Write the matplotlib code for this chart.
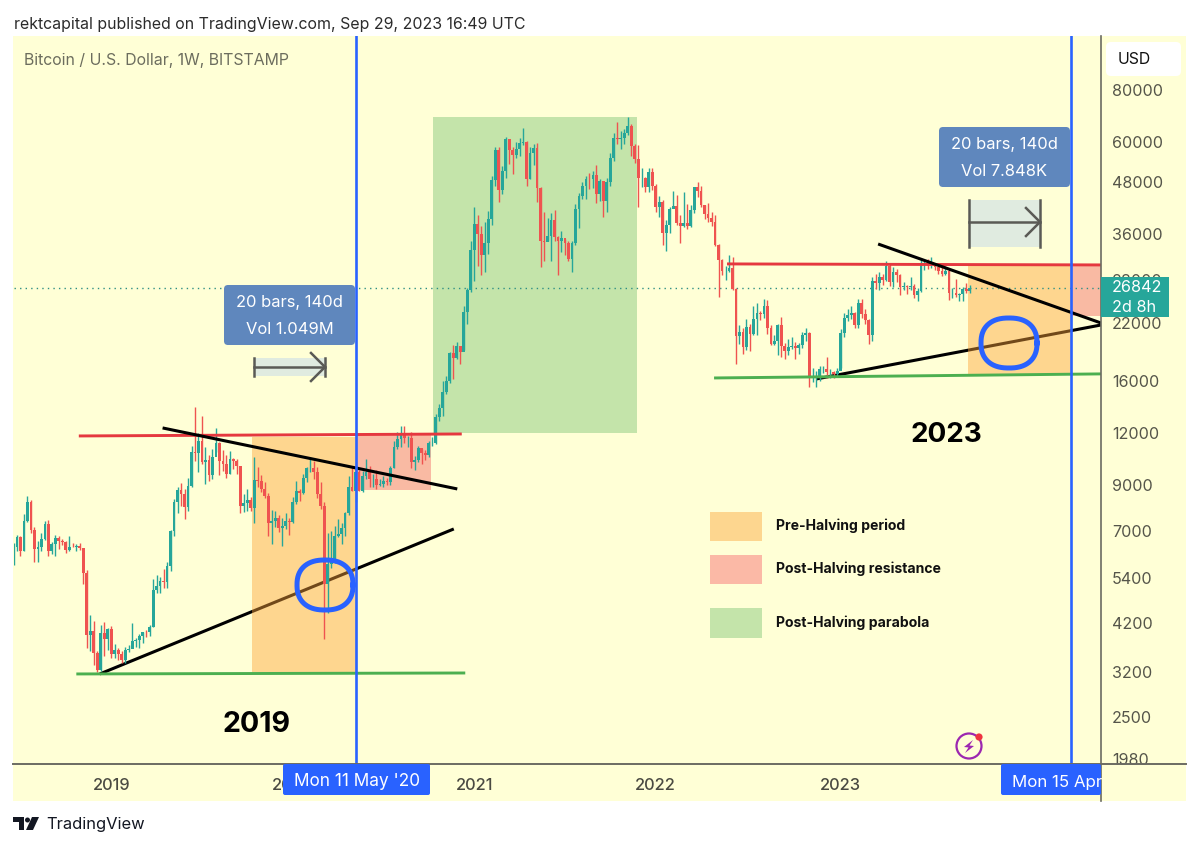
import numpy as np
import pandas as pd
import matplotlib
matplotlib.use('Agg')
import matplotlib.pyplot as plt
from matplotlib.patches import FancyBboxPatch, Rectangle, Circle, Polygon

# weekly BTCUSD candles (first week 2018-06-25)
first_open = 6150
close_2018 = [6380, 6750, 6250, 7400, 8220, 7020, 6310, 6390, 6700, 7260, 6240, 6500, 6710, 6600,
              6580, 6300, 6410, 6400, 6420, 6350, 5550, 3930, 4030, 3550, 3240, 3970, 3840, 4060]
high_2018 = [6530, 6820, 6780, 7690, 8480, 8280, 7150, 6600, 6900, 7400, 7410, 6570, 6830, 6780,
             6680, 6620, 6800, 6530, 6490, 6540, 6360, 5620, 4400, 4250, 3600, 4150, 4230, 4090]
low_2018 = [5780, 6240, 6070, 6250, 7350, 6900, 5880, 5880, 6240, 6650, 6100, 6150, 6100, 6330,
            6450, 6200, 6270, 6380, 6260, 6290, 5200, 3650, 3600, 3330, 3200, 3230, 3500, 3620]

close_2019 = [3540, 3610, 3540, 3420, 3620, 3630, 3810, 3820, 3910, 4000, 3990, 4100, 5050,
              5160, 5310, 5280, 5760, 6990, 8200, 8750, 8550, 7990, 8970, 10800, 10780, 11480,
              10240, 10330, 9530, 10530, 11390, 10300, 10140, 9600, 10400, 10310, 9990, 8040, 8140,
              8300, 7950, 9250, 9200, 8800, 8500, 7300, 7400, 7500, 7100, 7180, 7390, 7350]
high_2019 = [4130, 3740, 3650, 3590, 3680, 3710, 4200, 3870, 3950, 4000, 4050, 4150, 5350,
             5470, 5420, 5650, 5880, 7020, 8350, 8930, 9100, 8800, 9350, 11200, 13880, 12000,
             13200, 11100, 10660, 10990, 12320, 11440, 10950, 10650, 10900, 10480, 10380, 10000, 8550,
             8800, 8430, 10500, 9950, 9500, 9150, 8600, 7850, 7800, 7650, 7520, 7700, 7500]
low_2019 = [3460, 3460, 3430, 3370, 3360, 3570, 3650, 3680, 3660, 3770, 3890, 3900, 4100,
            4950, 4950, 5100, 5100, 5600, 6800, 7700, 8000, 7450, 7800, 8900, 10300, 9700,
            10100, 9070, 9200, 9300, 10800, 9500, 9730, 9350, 9600, 9850, 9600, 7700, 7760,
            7800, 7820, 7300, 8900, 8650, 8400, 6800, 6500, 7150, 6950, 6430, 7050, 6850]

close_2020 = [8180, 8700, 8600, 9350, 9910, 9920, 9660, 8550, 8040, 5200, 5830, 5880, 6780,
              6860, 7120, 7700, 8910, 8720, 9680, 8720, 9450, 9660, 9300, 9300, 9000, 9070,
              9220, 9160, 9900, 11100, 11600, 11900, 11650, 11700, 10250, 10330, 11080, 10740, 10650,
              11350, 11380, 13100, 13760, 15080, 15980, 18690, 18200, 19380, 18800, 23460, 26490, 33000]
high_2020 = [8450, 9190, 8800, 9600, 9950, 10500, 10300, 9960, 9180, 8180, 6900, 7000, 7200,
             7470, 7300, 7780, 9460, 10000, 9950, 9800, 9730, 10380, 10000, 9590, 9780, 9300,
             9480, 9340, 10000, 11460, 12050, 12490, 12480, 11780, 12080, 10600, 11190, 10980, 10950,
             11490, 11750, 13350, 14100, 15980, 16500, 18800, 19500, 19900, 19420, 24300, 26840, 34800]
low_2020 = [7300, 8100, 8250, 8550, 9150, 9700, 9300, 8400, 7900, 3850, 4450, 5700, 5860,
            6770, 6500, 6800, 7650, 8700, 8200, 8700, 8650, 9300, 8900, 8900, 8800, 8950,
            8900, 9000, 9020, 9900, 11000, 11100, 11350, 11100, 9870, 9800, 10230, 10100, 10350,
            10520, 11200, 11300, 12800, 13200, 14900, 15800, 16200, 18100, 17600, 19000, 21900, 26200]

close_2021 = [38200, 36000, 32100, 34300, 39200, 48600, 57400, 46100, 51000, 61000, 57400, 55800, 57800,
              59800, 60000, 49000, 56600, 58200, 46400, 34700, 34600, 35700, 39000, 35500, 34700, 35300,
              34240, 31500, 34300, 41500, 44500, 47000, 48900, 48800, 49900, 45000, 48300, 43200, 48200,
              55000, 61500, 61000, 61300, 63200, 65500, 58700, 54700, 49200, 49300, 46800, 50800, 47100]
high_2021 = [41950, 40000, 37800, 38500, 40950, 49700, 58300, 58300, 52600, 61700, 61100, 58500, 60100,
             61200, 64900, 60200, 58500, 59500, 59600, 46700, 40800, 39500, 40500, 41300, 35700, 36600,
             35100, 34700, 34800, 42500, 45300, 48100, 49800, 50500, 51000, 52900, 48800, 48300, 49200,
             56500, 62900, 67000, 63700, 64300, 69000, 66300, 59400, 59100, 51900, 49500, 51900, 52000]
low_2021 = [27800, 30300, 28800, 29200, 32300, 38000, 47000, 43000, 45000, 49300, 53200, 50400, 54800,
            55500, 59000, 47000, 48800, 52900, 43000, 30000, 31100, 34800, 31000, 34800, 28800, 32700,
            32100, 31000, 29300, 34000, 37300, 43700, 43900, 46300, 46600, 42800, 43300, 39600, 40800,
            47100, 53900, 59500, 57800, 59400, 62300, 55500, 53300, 42000, 46800, 45500, 45600, 45900]

close_2022 = [41800, 43100, 36300, 37900, 41400, 42200, 38400, 37700, 38400, 37800, 41300, 46800, 45800,
              42300, 40400, 39500, 38600, 34000, 31300, 29400, 29400, 29900, 26600, 20500, 21000, 19300,
              21600, 20800, 22600, 23300, 23200, 24300, 21500, 19600, 20000, 21800, 19400, 18900, 19300,
              19400, 19200, 19550, 20600, 20900, 16300, 16300, 16400, 17100, 17100, 16800, 16850, 16600]
high_2022 = [47500, 44400, 43500, 38900, 41900, 45800, 44800, 40000, 45400, 42500, 42400, 46900, 48200,
             47100, 42400, 42900, 40700, 40000, 34200, 31400, 30200, 32200, 31700, 26800, 21800, 21500,
             22500, 21900, 24200, 24700, 23600, 25200, 25100, 21800, 20600, 21900, 22800, 19700, 20200,
             20400, 19900, 19700, 21000, 21400, 21000, 17200, 16900, 17400, 17400, 18300, 17100, 16900]
low_2022 = [40700, 39700, 34000, 32900, 36200, 41700, 38000, 34300, 37500, 37100, 37600, 40500, 44300,
            41900, 39200, 38600, 37700, 33700, 25400, 28700, 28000, 29300, 26500, 17600, 19600, 18600,
            19000, 18900, 20700, 20700, 22400, 22700, 20800, 19550, 19500, 18500, 18300, 18100, 18500,
            19100, 18100, 18600, 19200, 20000, 15500, 15900, 15500, 16000, 16700, 16300, 16300, 16300]

close_2023 = [16950, 20900, 22700, 23000, 23300, 21800, 24600, 23200, 22400, 20600, 27900, 27500, 28500,
              28000, 30300, 27600, 29300, 28700, 26900, 27100, 26900, 27100, 25800, 26300, 30500, 30600,
              30300, 30300, 30000, 29400, 29000, 29400, 26000, 26000, 25800, 25900, 26600, 26300, 26842]
high_2023 = [17200, 21300, 23300, 23800, 24200, 23400, 25200, 25200, 23900, 22600, 28400, 29000, 29200,
             29000, 31000, 30500, 30000, 29800, 28900, 27700, 27200, 28400, 27400, 26800, 31400, 31000,
             31500, 31800, 30400, 29900, 30000, 30200, 29700, 26800, 28100, 26100, 26900, 27500, 27200]
low_2023 = [16500, 17200, 20400, 22300, 22500, 21400, 21400, 22700, 21900, 19600, 20000, 26600, 26500,
            27200, 27800, 27100, 26900, 27700, 25800, 26500, 25900, 26500, 25300, 24900, 26200, 29500,
            29700, 29900, 29500, 28900, 28600, 28800, 25100, 25300, 25500, 24900, 24900, 26000, 26100]

closes = close_2018 + close_2019 + close_2020 + close_2021 + close_2022 + close_2023
highs = high_2018 + high_2019 + high_2020 + high_2021 + high_2022 + high_2023
lows = low_2018 + low_2019 + low_2020 + low_2021 + low_2022 + low_2023
if not (len(closes) == len(highs) == len(lows) == 275):
    raise ValueError(f'bar count {len(closes)} {len(highs)} {len(lows)}')

# axis labels
price_ticks = [80000, 60000, 48000, 36000, 28000, 22000, 16000, 12000, 9000, 7000, 5400, 4200, 3200, 2500, 1980]
year_ticks = ['2019-01-07', '2020-01-06', '2021-01-04', '2022-01-03', '2023-01-09', '2024-01-08']
year_labels = ['2019', '2020', '2021', '2022', '2023', '2024']

# drawings on the chart: (start date, end date, low price, high price)
halving_1 = '2020-05-11'
halving_2 = '2024-04-15'
pre_halving_zones = [('2019-10-16', halving_1, 3205, 11750), ('2023-09-21', halving_2, 16550, 30400)]
resistance_zones = [(halving_1, '2020-10-09', 8770, 11880), (halving_2, '2024-06-14', 22900, 30400)]
parabola_zones = [('2020-10-13', '2021-11-27', 12020, 68900)]

# (start date, start price, end date, end price)
red_lines = [('2018-11-03', 11815, '2020-12-10', 11945), ('2022-05-26', 30580, '2024-06-14', 30410)]
green_lines = [('2018-10-29', 3170, '2020-12-17', 3187), ('2022-04-30', 16280, '2024-06-14', 16650)]
falling_lines = [('2019-04-20', 12350, '2020-12-01', 8815), ('2023-03-25', 34140, '2024-06-14', 22060)]
rising_lines = [('2018-12-15', 3170, '2020-11-24', 7066), ('2022-11-21', 16190, '2024-06-14', 21820)]

W, H = 1200, 848
YELLOW = '#FFFFD6'
UP = '#26A69A'
DOWN = '#EF5350'
BLUE = '#2962FF'
TAG = '#5F87BD'
FONT = 'Inter'

plt.rcParams['font.family'] = [FONT, 'DejaVu Sans']

fig = plt.figure(figsize=(12, 8.48), dpi=100, facecolor='white')


def pixel_rect(left, top, right, bottom):
    return [left / W, 1 - bottom / H, (right - left) / W, (bottom - top) / H]


# background band, then price chart, then overlay for tags
bg = fig.add_axes([0, 0, 1, 1], zorder=0)
bg.set_xlim(0, W)
bg.set_ylim(H, 0)
bg.axis('off')
bg.add_patch(Rectangle((13, 36), 1173, 765, fc=YELLOW, ec='none'))

ax = fig.add_axes(pixel_rect(14, 36, 1101, 764), zorder=1)
ax.patch.set_alpha(0)
ax.set_yscale('log')
ax.set_ylim(1927, 107800)
ax.set_xlim(pd.Timestamp('2018-06-26'), pd.Timestamp('2024-06-14'))
for side in ['top', 'left', 'right', 'bottom']:
    ax.spines[side].set_visible(False)

dates = pd.date_range('2018-06-25', periods=len(closes), freq='7D')
opens = [first_open] + closes[:-1]
up = np.array(closes) >= np.array(opens)
colors = np.where(up, UP, DOWN)

for zone in pre_halving_zones:
    ax.fill_between([pd.Timestamp(zone[0]), pd.Timestamp(zone[1])], zone[2], zone[3],
                    color='#FDA43A', alpha=0.45, lw=0, zorder=2)
for zone in resistance_zones:
    ax.fill_between([pd.Timestamp(zone[0]), pd.Timestamp(zone[1])], zone[2], zone[3],
                    color='#F9AE9B', alpha=0.85, lw=0, zorder=2)
for zone in parabola_zones:
    ax.fill_between([pd.Timestamp(zone[0]), pd.Timestamp(zone[1])], zone[2], zone[3],
                    color='#C4E4AA', lw=0, zorder=2)

ax.axhline(closes[-1], color='#2f8f83', lw=1, ls=(0, (1, 3)), zorder=2.5)


def draw_lines(lines, color, lw, zorder):
    for x0, y0, x1, y1 in lines:
        ax.plot([pd.Timestamp(x0), pd.Timestamp(x1)], [y0, y1], color=color, lw=lw,
                solid_capstyle='butt', zorder=zorder)


# the rising trendlines sit under the coloured zones
draw_lines(rising_lines, 'black', 2.2, 1.5)

ax.vlines(dates, lows, highs, colors=colors, lw=1.0, zorder=3)
body_low = np.minimum(opens, closes)
body_high = np.maximum(opens, closes)
ax.bar(dates, body_high - body_low, bottom=body_low, width=5.6, color=colors, lw=0, zorder=3.2)

draw_lines(red_lines, '#E5383F', 2.1, 3.5)
draw_lines(green_lines, '#4CAF50', 2.1, 3.5)
draw_lines(falling_lines, 'black', 2.2, 3.6)

ax.axvline(pd.Timestamp(halving_1), color=BLUE, lw=1.9, zorder=4)
ax.axvline(pd.Timestamp(halving_2), color=BLUE, lw=1.9, zorder=4)

ax.yaxis.tick_right()
ax.set_yticks(price_ticks)
ax.set_yticklabels([str(p) for p in price_ticks])
ax.minorticks_off()
ax.tick_params(axis='y', length=0, pad=8, labelsize=11.6, labelcolor='#55554a')
ax.set_xticks([pd.Timestamp(d) for d in year_ticks])
ax.set_xticklabels(year_labels)
ax.tick_params(axis='x', length=0, pad=10, labelsize=11.8, labelcolor='#4a4a42')
for lab in ax.get_xticklabels():
    lab.set_fontweight('medium')

# overlay in pixels
top = fig.add_axes([0, 0, 1, 1], zorder=2)
top.set_xlim(0, W)
top.set_ylim(H, 0)
top.axis('off')
top.patch.set_alpha(0)

top.plot([1101, 1101], [36, 801], color='#6b6b62', lw=1.2, zorder=1)
top.plot([13, 1186], [764, 764], color='#6b6b62', lw=1.4, zorder=1)


def box(x0, y0, x1, y1, color, r=4, ec='none', zorder=2):
    top.add_patch(FancyBboxPatch((x0 + r, y0 + r), x1 - x0 - 2 * r, y1 - y0 - 2 * r,
                                 boxstyle=f'round,pad={r},rounding_size={r}',
                                 fc=color, ec=ec, lw=0, zorder=zorder))


top.text(14, 24, 'rektcapital published on TradingView.com, Sep 29, 2023 16:49 UTC',
         fontsize=11.44, color='#2b2b2b', va='center')
top.text(24, 60, 'Bitcoin / U.S. Dollar, 1W, BITSTAMP', fontsize=11.4, color='#6c6d5e', va='center')

# measure tools
for x0, y0, y1, txt1, txt2 in [(224, 285, 345, '20 bars, 140d', 'Vol 1.049M'),
                               (939, 127, 187, '20 bars, 140d', 'Vol 7.848K')]:
    box(x0, y0, x0 + 131, y1, TAG)
    top.text(x0 + 65.5, y0 + 18, txt1, color='white', fontsize=11.9, ha='center', va='center', zorder=3)
    top.text(x0 + 65.5, y0 + 44, txt2, color='white', fontsize=11.9, ha='center', va='center', zorder=3)

for x0, x1, y0, y1, ym, hs in [(254, 325, 358, 376, 367, 14), (969, 1040, 200, 247, 222, 14)]:
    top.add_patch(Rectangle((x0, y0), x1 - x0, y1 - y0, fc='#E0EBE0', ec='none', zorder=1.5))
    top.plot([x0, x0], [y0, y1], color='#5a5a55', lw=1.8, zorder=2)
    top.plot([x1, x1], [y0, y1], color='#5a5a55', lw=1.8, zorder=2)
    top.plot([x0, x1], [ym, ym], color='#5a5a55', lw=1.8, zorder=2)
    top.plot([x1 - hs, x1, x1 - hs], [ym - hs, ym, ym + hs], color='#5a5a55', lw=1.8, zorder=2)

# hand drawn circles
t = np.linspace(0, 2 * np.pi, 200)
for cx, cy, a, b in [(325, 585, 28, 25), (1009, 343, 28, 25)]:
    cos, sin = np.cos(t), np.sin(t)
    px = cx + a * np.sign(cos) * np.abs(cos) ** 0.85
    py = cy + b * np.sign(sin) * np.abs(sin) ** 0.85
    top.plot(px, py, color=BLUE, lw=3.6, zorder=3)

top.text(256, 725, '2019', fontsize=20.6, fontweight='bold', color='black', ha='center', va='center')
top.text(946, 435, '2023', fontsize=20, fontweight='bold', color='black', ha='center', va='center')

# legend drawn on the chart
for y0, y1, col, label in [(512, 541, '#FDD68F', 'Pre-Halving period'),
                           (555, 584, '#FBB9A6', 'Post-Halving resistance'),
                           (608, 638, '#C4E4AA', 'Post-Halving parabola')]:
    top.add_patch(Rectangle((710, y0), 52, y1 - y0, fc=col, ec='none'))
    top.text(776, (y0 + y1) / 2 - 0.5, label, fontsize=10.1, fontweight='bold', color='#111111', va='center')

# USD button and last price tag
box(1106, 42, 1181, 76, 'white', r=5)
top.text(1118, 59, 'USD', fontsize=11.4, color='#111111', va='center', zorder=3)
top.add_patch(Rectangle((1101, 277), 68, 40, fc=UP, ec='none', zorder=2))
top.text(1112, 287.5, '26842', fontsize=11.7, color='white', va='center', zorder=3)
top.text(1112, 307, '2d 8h', fontsize=11.7, color='white', va='center', zorder=3)

# date tags under the halving lines
box(283, 764, 430, 795, BLUE, r=2)
top.text(356.5, 782, "Mon 11 May '20", fontsize=12.4, color='white', ha='center', va='center', zorder=3)
box(1001, 764, 1101, 795, BLUE, r=2)
top.text(1012, 782, 'Mon 15 Apr', fontsize=12.2, color='white', va='center', zorder=3)

# lightning icon
top.add_patch(Circle((969, 746), 12.5, fc='none', ec='#9C27B0', lw=1.6))
top.add_patch(Polygon([[973, 740], [964, 747], [968.5, 747.5], [965, 753], [974, 746], [969.5, 745.5]],
                      fc='#9C27B0', ec='none'))
top.add_patch(Circle((979, 737), 3.6, fc='#EF3340', ec='none'))

# TradingView logo
top.add_patch(Rectangle((13, 817), 11, 5, fc='#131722', ec='none'))
top.add_patch(Rectangle((19, 817), 5, 13, fc='#131722', ec='none'))
top.add_patch(Circle((27.5, 820), 2.5, fc='#131722', ec='none'))
top.add_patch(Polygon([[32, 817], [39, 817], [33, 830], [26, 830]], fc='#131722', ec='none'))
top.text(46, 825, 'TradingView', fontsize=11.9, color='#131722', va='center')

fig.savefig('out.png', dpi=100, facecolor='white')
